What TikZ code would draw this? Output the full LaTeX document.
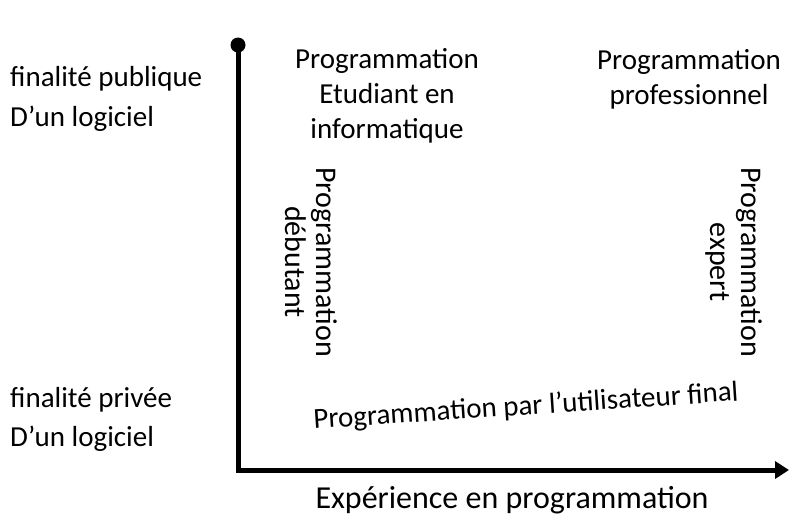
\documentclass[tikz,border=0pt]{standalone}
\usepackage{fontspec}
\setmainfont{Carlito}
\usetikzlibrary{arrows.meta}
\begin{document}
\begin{tikzpicture}[x=1pt,y=-1pt,
  lbl/.style={inner sep=0pt,font=\fontsize{29}{35}\selectfont,align=center},
  lft/.style={lbl,anchor=west,align=left},
  vert/.style={lbl,rotate=-90,font=\fontsize{30}{31}\selectfont},
  axis/.style={line width=5pt}]
\useasboundingbox (0,0) rectangle (789,522);
% axes
\coordinate (top) at (238,45);
\coordinate (origin) at (238,470);
\coordinate (xend) at (789,470);
\fill (top) circle (7.5);
\draw[axis] (top) -- ([yshift=2.5]origin);
\draw[axis,-{Triangle[length=14pt,width=17pt]}] ([xshift=-2.5]origin) -- (xend);
% left labels
\node[lft] (pub1) at (10,79) {finalité publique};
\node[lft] (pub2) at (10,119) {D’un logiciel};
\node[lft] (priv1) at (10,400) {finalité privée};
\node[lft] (priv2) at (10,439) {D’un logiciel};
% top labels
\node[lbl] (etud) at (387,96) {Programmation\\Etudiant en\\informatique};
\node[lbl] (pro) at (689,79) {Programmation\\professionnel};
% vertical labels
\node[vert] (deb) at (311,262) {Programmation\\débutant};
\node[vert] (exp) at (734,262) {Programmation\\expert};
% end user
\node[lbl,rotate=3.8] (final) at (526,407) {Programmation par l’utilisateur final};
% x axis label
\node[lbl,font=\fontsize{32}{36}\selectfont] (xlab) at (512,500) {Expérience en programmation};
\end{tikzpicture}
\end{document}
